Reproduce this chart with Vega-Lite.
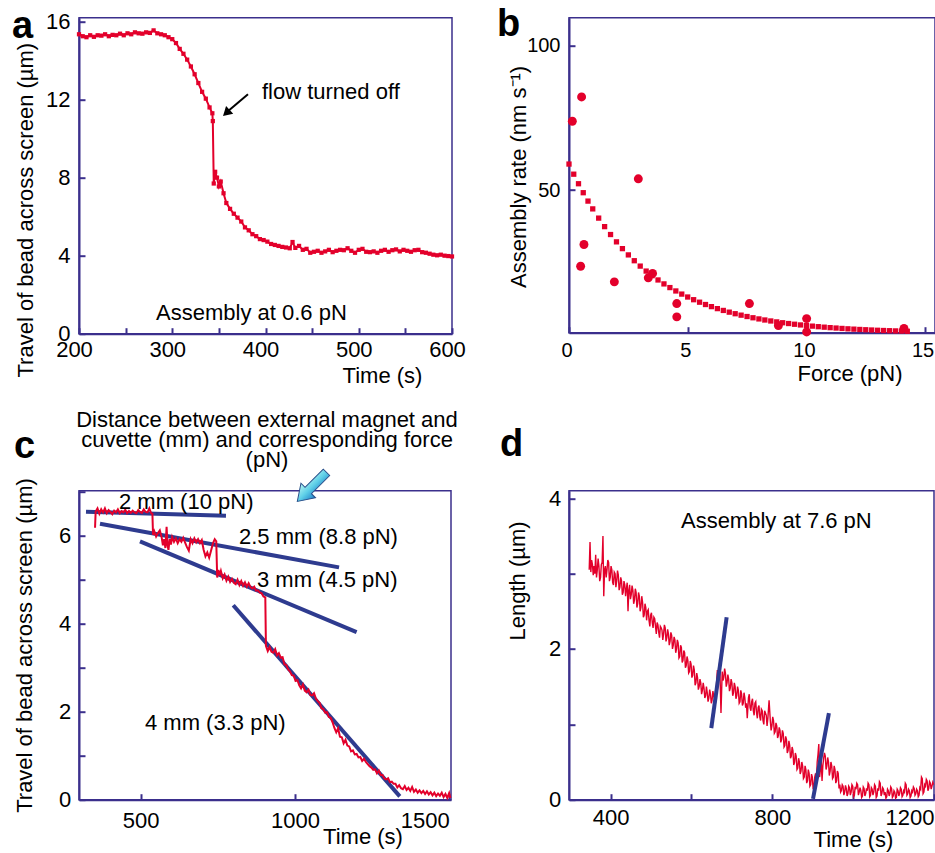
{
  "$schema": "https://vega.github.io/schema/vega-lite/v6.json",
  "autosize": {"type": "none"},
  "padding": {"left": 79, "top": 17.7, "right": 856, "bottom": 835.3},
  "background": "white",
  "config": {
    "font": "Liberation Sans",
    "view": {"stroke": "#3b2f8c", "strokeWidth": 1.5},
    "axis": {"domainColor": "#3b2f8c", "domainWidth": 2, "tickColor": "#3b2f8c", "tickWidth": 2, "tickSize": -6, "labelFont": "Liberation Sans", "labelFontSize": 22, "labelColor": "black", "titleFont": "Liberation Sans", "titleFontSize": 22, "titleFontWeight": "normal", "titleColor": "black", "grid": false, "labelFlush": false, "labelOverlap": false, "titleBaseline": "alphabetic", "format": "d"},
    "text": {"font": "Liberation Sans", "fontSize": 22, "color": "black"}
  },
  "datasets": {
    "traceA": [
      {"t":200,"v":15.35},{"t":204,"v":15.25},{"t":208,"v":15.2},{"t":212,"v":15.3},{"t":216,"v":15.22},{"t":220,"v":15.3},{"t":224,"v":15.28},{"t":228,"v":15.35},{"t":232,"v":15.25},{"t":236,"v":15.32},{"t":240,"v":15.3},{"t":244,"v":15.38},{"t":248,"v":15.3},{"t":252,"v":15.4},{"t":256,"v":15.35},{"t":260,"v":15.45},{"t":264,"v":15.4},{"t":268,"v":15.38},{"t":272,"v":15.45},{"t":276,"v":15.42},{"t":280,"v":15.55},{"t":284,"v":15.4},{"t":288,"v":15.35},{"t":292,"v":15.3},{"t":296,"v":15.2},{"t":300,"v":15.1},{"t":304,"v":14.9},{"t":308,"v":14.6},{"t":312,"v":14.35},{"t":316,"v":14.05},{"t":320,"v":13.7},{"t":324,"v":13.3},{"t":328,"v":12.85},{"t":332,"v":12.4},{"t":336,"v":12.05},{"t":340,"v":11.6},{"t":343,"v":11.3},{"t":343.5,"v":10.9},{"t":344.5,"v":7.7},{"t":346,"v":8.3},{"t":348,"v":8.0},{"t":350,"v":7.55},{"t":352,"v":7.8},{"t":355,"v":7.2},{"t":358,"v":6.7},{"t":362,"v":6.4},{"t":366,"v":6.15},{"t":370,"v":5.95},{"t":374,"v":5.75},{"t":378,"v":5.45},{"t":382,"v":5.3},{"t":386,"v":5.1},{"t":390,"v":5.0},{"t":394,"v":4.85},{"t":398,"v":4.8},{"t":402,"v":4.72},{"t":406,"v":4.6},{"t":410,"v":4.55},{"t":414,"v":4.5},{"t":418,"v":4.45},{"t":422,"v":4.42},{"t":426,"v":4.38},{"t":429,"v":4.7},{"t":432,"v":4.4},{"t":436,"v":4.5},{"t":440,"v":4.3},{"t":444,"v":4.35},{"t":448,"v":4.15},{"t":452,"v":4.2},{"t":456,"v":4.25},{"t":460,"v":4.15},{"t":464,"v":4.22},{"t":468,"v":4.3},{"t":472,"v":4.18},{"t":476,"v":4.25},{"t":480,"v":4.3},{"t":484,"v":4.28},{"t":488,"v":4.38},{"t":492,"v":4.25},{"t":496,"v":4.15},{"t":500,"v":4.3},{"t":504,"v":4.35},{"t":508,"v":4.2},{"t":512,"v":4.18},{"t":516,"v":4.22},{"t":520,"v":4.15},{"t":524,"v":4.25},{"t":528,"v":4.3},{"t":532,"v":4.2},{"t":536,"v":4.28},{"t":540,"v":4.32},{"t":544,"v":4.22},{"t":548,"v":4.3},{"t":552,"v":4.25},{"t":556,"v":4.2},{"t":560,"v":4.28},{"t":564,"v":4.3},{"t":568,"v":4.18},{"t":572,"v":4.15},{"t":576,"v":4.1},{"t":580,"v":4.05},{"t":584,"v":4.02},{"t":588,"v":4.05},{"t":592,"v":4.0},{"t":596,"v":3.98},{"t":600,"v":3.96}
    ],
    "fitB": [
      {"f":0,"v":59.0},{"f":0.2,"v":55.5},{"f":0.4,"v":52.2},{"f":0.6,"v":49.1},{"f":0.8,"v":46.2},{"f":1,"v":43.51},{"f":1.25,"v":40.32},{"f":1.5,"v":37.38},{"f":1.75,"v":34.65},{"f":2,"v":32.12},{"f":2.25,"v":29.78},{"f":2.5,"v":27.61},{"f":2.75,"v":25.6},{"f":3,"v":23.74},{"f":3.25,"v":22.02},{"f":3.5,"v":20.43},{"f":3.75,"v":18.95},{"f":4,"v":17.59},{"f":4.25,"v":16.32},{"f":4.5,"v":15.15},{"f":4.75,"v":14.07},{"f":5,"v":13.06},{"f":5.25,"v":12.13},{"f":5.5,"v":11.27},{"f":5.75,"v":10.47},{"f":6,"v":9.74},{"f":6.25,"v":9.05},{"f":6.5,"v":8.42},{"f":6.75,"v":7.83},{"f":7,"v":7.29},{"f":7.25,"v":6.79},{"f":7.5,"v":6.32},{"f":7.75,"v":5.89},{"f":8,"v":5.49},{"f":8.25,"v":5.12},{"f":8.5,"v":4.78},{"f":8.75,"v":4.46},{"f":9,"v":4.17},{"f":9.25,"v":3.9},{"f":9.5,"v":3.65},{"f":9.75,"v":3.41},{"f":10,"v":3.2},{"f":10.25,"v":3.0},{"f":10.5,"v":2.81},{"f":10.75,"v":2.64},{"f":11,"v":2.48},{"f":11.25,"v":2.34},{"f":11.5,"v":2.2},{"f":11.75,"v":2.07},{"f":12,"v":1.96},{"f":12.25,"v":1.85},{"f":12.5,"v":1.75},{"f":12.75,"v":1.66},{"f":13,"v":1.57},{"f":13.25,"v":1.49},{"f":13.5,"v":1.42},{"f":13.75,"v":1.35},{"f":14,"v":1.29},{"f":14.25,"v":1.23}
    ],
    "ptsB": [
      {"f":0.14,"v":73.8},{"f":0.53,"v":82.2},{"f":0.63,"v":31.2},{"f":0.49,"v":23.7},{"f":1.91,"v":18.3},{"f":2.92,"v":53.9},{"f":3.34,"v":19.7},{"f":3.52,"v":21.2},{"f":4.54,"v":10.8},{"f":4.54,"v":6.2},{"f":7.6,"v":10.8},{"f":8.82,"v":3.2},{"f":10.01,"v":5.6},{"f":10.01,"v":1.0},{"f":14.11,"v":2.2}
    ],
    "traceC": [
      {"t":352,"v":6.18},{"t":354,"v":6.55},{"t":360,"v":6.62},{"t":366,"v":6.5},{"t":372,"v":6.6},{"t":378,"v":6.53},{"t":384,"v":6.62},{"t":390,"v":6.51},{"t":396,"v":6.58},{"t":402,"v":6.54},{"t":408,"v":6.49},{"t":414,"v":6.57},{"t":420,"v":6.53},{"t":426,"v":6.6},{"t":432,"v":6.51},{"t":438,"v":6.56},{"t":444,"v":6.53},{"t":450,"v":6.59},{"t":456,"v":6.51},{"t":462,"v":6.56},{"t":468,"v":6.52},{"t":474,"v":6.57},{"t":480,"v":6.53},{"t":486,"v":6.51},{"t":492,"v":6.58},{"t":498,"v":6.54},{"t":504,"v":6.52},{"t":510,"v":6.6},{"t":516,"v":6.54},{"t":522,"v":6.53},{"t":528,"v":6.62},{"t":534,"v":6.51},{"t":538,"v":6.5},{"t":540,"v":6.02},{"t":544,"v":6.1},{"t":550,"v":5.98},{"t":556,"v":6.06},{"t":562,"v":6.12},{"t":568,"v":5.96},{"t":572,"v":5.78},{"t":576,"v":5.92},{"t":580,"v":5.72},{"t":584,"v":6.2},{"t":587,"v":5.78},{"t":590,"v":5.68},{"t":594,"v":5.92},{"t":598,"v":5.8},{"t":602,"v":5.97},{"t":608,"v":5.86},{"t":614,"v":5.94},{"t":620,"v":5.83},{"t":626,"v":5.92},{"t":632,"v":5.86},{"t":638,"v":5.95},{"t":644,"v":5.84},{"t":650,"v":5.74},{"t":656,"v":5.66},{"t":662,"v":5.92},{"t":668,"v":5.83},{"t":674,"v":5.94},{"t":680,"v":5.85},{"t":686,"v":5.92},{"t":692,"v":5.83},{"t":698,"v":5.9},{"t":704,"v":5.68},{"t":710,"v":5.53},{"t":716,"v":5.62},{"t":722,"v":5.5},{"t":728,"v":5.66},{"t":734,"v":5.82},{"t":740,"v":5.92},{"t":745,"v":5.87},{"t":748,"v":5.05},{"t":752,"v":5.22},{"t":756,"v":5.1},{"t":760,"v":5.2},{"t":766,"v":5.03},{"t":772,"v":5.12},{"t":778,"v":4.98},{"t":784,"v":5.07},{"t":790,"v":4.95},{"t":796,"v":5.02},{"t":802,"v":4.93},{"t":808,"v":4.9},{"t":814,"v":5.0},{"t":820,"v":4.88},{"t":826,"v":4.97},{"t":832,"v":4.86},{"t":838,"v":4.94},{"t":844,"v":4.84},{"t":850,"v":4.92},{"t":856,"v":4.83},{"t":862,"v":4.8},{"t":868,"v":4.84},{"t":874,"v":4.75},{"t":880,"v":4.76},{"t":886,"v":4.71},{"t":892,"v":4.69},{"t":898,"v":4.62},{"t":904,"v":4.6},{"t":906,"v":3.5},{"t":912,"v":3.38},{"t":918,"v":3.47},{"t":924,"v":3.36},{"t":930,"v":3.34},{"t":936,"v":3.42},{"t":942,"v":3.28},{"t":948,"v":3.33},{"t":954,"v":3.23},{"t":960,"v":3.24},{"t":966,"v":3.08},{"t":972,"v":3.06},{"t":978,"v":2.96},{"t":984,"v":2.92},{"t":990,"v":2.83},{"t":996,"v":2.82},{"t":1002,"v":2.7},{"t":1008,"v":2.72},{"t":1014,"v":2.6},{"t":1020,"v":2.53},{"t":1026,"v":2.62},{"t":1032,"v":2.48},{"t":1038,"v":2.44},{"t":1044,"v":2.5},{"t":1050,"v":2.38},{"t":1056,"v":2.37},{"t":1062,"v":2.42},{"t":1068,"v":2.3},{"t":1074,"v":2.24},{"t":1080,"v":2.2},{"t":1086,"v":2.08},{"t":1092,"v":2.06},{"t":1098,"v":1.98},{"t":1104,"v":1.99},{"t":1110,"v":1.88},{"t":1116,"v":1.86},{"t":1122,"v":1.76},{"t":1128,"v":1.63},{"t":1134,"v":1.53},{"t":1140,"v":1.62},{"t":1146,"v":1.43},{"t":1152,"v":1.42},{"t":1158,"v":1.28},{"t":1164,"v":1.36},{"t":1170,"v":1.23},{"t":1176,"v":1.21},{"t":1182,"v":1.1},{"t":1188,"v":1.12},{"t":1194,"v":1.03},{"t":1200,"v":1.04},{"t":1206,"v":0.96},{"t":1212,"v":0.97},{"t":1218,"v":0.88},{"t":1224,"v":0.93},{"t":1230,"v":0.86},{"t":1236,"v":0.81},{"t":1242,"v":0.76},{"t":1248,"v":0.73},{"t":1254,"v":0.68},{"t":1260,"v":0.69},{"t":1266,"v":0.6},{"t":1272,"v":0.66},{"t":1278,"v":0.56},{"t":1284,"v":0.56},{"t":1290,"v":0.48},{"t":1296,"v":0.46},{"t":1302,"v":0.49},{"t":1308,"v":0.4},{"t":1314,"v":0.41},{"t":1320,"v":0.36},{"t":1326,"v":0.36},{"t":1332,"v":0.28},{"t":1338,"v":0.33},{"t":1344,"v":0.26},{"t":1350,"v":0.24},{"t":1356,"v":0.31},{"t":1362,"v":0.22},{"t":1368,"v":0.27},{"t":1374,"v":0.2},{"t":1380,"v":0.29},{"t":1386,"v":0.18},{"t":1392,"v":0.23},{"t":1398,"v":0.16},{"t":1404,"v":0.21},{"t":1410,"v":0.15},{"t":1416,"v":0.2},{"t":1422,"v":0.13},{"t":1428,"v":0.19},{"t":1434,"v":0.12},{"t":1440,"v":0.17},{"t":1446,"v":0.1},{"t":1452,"v":0.16},{"t":1458,"v":0.08},{"t":1464,"v":0.14},{"t":1470,"v":0.09},{"t":1476,"v":0.16},{"t":1482,"v":0.06},{"t":1488,"v":0.13},{"t":1494,"v":0.04},{"t":1500,"v":0.15},{"t":1504,"v":0.04}
    ],
    "linesC": [
      {"t":322.7,"v":6.545,"t2":776.5,"v2":6.455},
      {"t":368,"v":6.27,"t2":1143,"v2":5.28},
      {"t":497.7,"v":5.87,"t2":1200,"v2":3.81},
      {"t":800,"v":4.42,"t2":1340,"v2":0.075}
    ],
    "traceD": [
      {"t":347,"v":3.05},{"t":349,"v":3.42},{"t":351,"v":3.02},{"t":353,"v":3.18},{"t":355,"v":3.12},{"t":357,"v":2.98},{"t":359,"v":3.1},{"t":361,"v":3.0},{"t":363,"v":3.25},{"t":365,"v":2.95},{"t":367,"v":3.05},{"t":369,"v":3.2},{"t":371,"v":3.1},{"t":373,"v":2.9},{"t":375,"v":2.95},{"t":377,"v":3.12},{"t":379,"v":3.15},{"t":381,"v":3.5},{"t":383,"v":2.7},{"t":385,"v":3.05},{"t":387,"v":3.1},{"t":389,"v":2.95},{"t":391,"v":3.05},{"t":393,"v":3.18},{"t":395,"v":3.15},{"t":397,"v":2.9},{"t":399,"v":2.95},{"t":401,"v":3.1},{"t":403,"v":3.05},{"t":405,"v":2.88},{"t":407,"v":2.85},{"t":409,"v":3.02},{"t":411,"v":3.0},{"t":413,"v":2.82},{"t":415,"v":2.9},{"t":417,"v":3.04},{"t":419,"v":2.98},{"t":421,"v":2.78},{"t":423,"v":2.82},{"t":425,"v":2.95},{"t":427,"v":2.9},{"t":429,"v":2.72},{"t":431,"v":2.75},{"t":433,"v":2.9},{"t":435,"v":2.85},{"t":437,"v":2.7},{"t":439,"v":2.8},{"t":441,"v":2.88},{"t":443,"v":2.5},{"t":445,"v":2.78},{"t":447,"v":2.85},{"t":449,"v":2.66},{"t":451,"v":2.72},{"t":453,"v":2.84},{"t":455,"v":2.78},{"t":457,"v":2.6},{"t":459,"v":2.65},{"t":461,"v":2.8},{"t":463,"v":2.75},{"t":465,"v":2.55},{"t":467,"v":2.6},{"t":469,"v":2.75},{"t":471,"v":2.7},{"t":473,"v":2.5},{"t":475,"v":2.55},{"t":477,"v":2.7},{"t":479,"v":2.62},{"t":481,"v":2.42},{"t":483,"v":2.45},{"t":485,"v":2.6},{"t":487,"v":2.55},{"t":489,"v":2.38},{"t":491,"v":2.5},{"t":493,"v":2.52},{"t":495,"v":2.38},{"t":497,"v":2.3},{"t":499,"v":2.45},{"t":501,"v":2.48},{"t":503,"v":2.35},{"t":505,"v":2.28},{"t":507,"v":2.42},{"t":509,"v":2.4},{"t":511,"v":2.3},{"t":513,"v":2.2},{"t":515,"v":2.35},{"t":517,"v":2.32},{"t":519,"v":2.22},{"t":521,"v":2.15},{"t":523,"v":2.3},{"t":525,"v":2.28},{"t":527,"v":2.25},{"t":529,"v":2.12},{"t":531,"v":2.2},{"t":533,"v":2.32},{"t":535,"v":2.28},{"t":537,"v":2.1},{"t":539,"v":2.15},{"t":541,"v":2.26},{"t":543,"v":2.2},{"t":545,"v":2.05},{"t":547,"v":2.1},{"t":549,"v":2.22},{"t":551,"v":2.18},{"t":553,"v":2.0},{"t":555,"v":2.05},{"t":557,"v":2.16},{"t":559,"v":2.12},{"t":561,"v":1.95},{"t":563,"v":2.0},{"t":565,"v":2.12},{"t":567,"v":2.08},{"t":569,"v":1.88},{"t":571,"v":1.9},{"t":573,"v":2.05},{"t":575,"v":2.02},{"t":577,"v":1.82},{"t":579,"v":1.85},{"t":581,"v":1.98},{"t":583,"v":1.95},{"t":585,"v":1.75},{"t":587,"v":1.78},{"t":589,"v":1.9},{"t":591,"v":1.85},{"t":593,"v":1.68},{"t":595,"v":1.7},{"t":597,"v":1.84},{"t":599,"v":1.8},{"t":601,"v":1.62},{"t":603,"v":1.65},{"t":605,"v":1.78},{"t":607,"v":1.72},{"t":609,"v":1.52},{"t":611,"v":1.55},{"t":613,"v":1.68},{"t":615,"v":1.62},{"t":617,"v":1.46},{"t":619,"v":1.5},{"t":621,"v":1.6},{"t":623,"v":1.55},{"t":625,"v":1.4},{"t":627,"v":1.45},{"t":629,"v":1.55},{"t":631,"v":1.48},{"t":633,"v":1.35},{"t":635,"v":1.38},{"t":637,"v":1.5},{"t":639,"v":1.42},{"t":641,"v":1.3},{"t":643,"v":1.35},{"t":645,"v":1.46},{"t":647,"v":1.4},{"t":649,"v":1.28},{"t":651,"v":1.32},{"t":653,"v":1.44},{"t":655,"v":1.38},{"t":658,"v":1.3},{"t":661,"v":1.45},{"t":664,"v":1.72},{"t":667,"v":1.65},{"t":670,"v":1.78},{"t":673,"v":1.15},{"t":676,"v":1.7},{"t":678,"v":1.58},{"t":680,"v":1.62},{"t":682,"v":1.74},{"t":684,"v":1.68},{"t":686,"v":1.5},{"t":688,"v":1.55},{"t":690,"v":1.66},{"t":692,"v":1.6},{"t":694,"v":1.44},{"t":696,"v":1.48},{"t":698,"v":1.6},{"t":700,"v":1.55},{"t":702,"v":1.38},{"t":704,"v":1.42},{"t":706,"v":1.55},{"t":708,"v":1.5},{"t":710,"v":1.34},{"t":712,"v":1.38},{"t":714,"v":1.5},{"t":716,"v":1.45},{"t":718,"v":1.28},{"t":720,"v":1.3},{"t":722,"v":1.45},{"t":724,"v":1.4},{"t":726,"v":1.25},{"t":728,"v":1.28},{"t":730,"v":1.42},{"t":732,"v":1.35},{"t":734,"v":1.22},{"t":736,"v":1.28},{"t":738,"v":1.08},{"t":741,"v":1.35},{"t":743,"v":1.4},{"t":745,"v":1.22},{"t":747,"v":1.18},{"t":749,"v":1.3},{"t":751,"v":1.34},{"t":753,"v":1.18},{"t":755,"v":1.12},{"t":757,"v":1.28},{"t":759,"v":1.3},{"t":761,"v":1.15},{"t":763,"v":1.08},{"t":765,"v":1.22},{"t":767,"v":1.25},{"t":769,"v":1.1},{"t":771,"v":1.05},{"t":773,"v":1.2},{"t":775,"v":1.18},{"t":777,"v":1.05},{"t":779,"v":1.0},{"t":781,"v":1.18},{"t":783,"v":1.15},{"t":785,"v":1.12},{"t":787,"v":0.98},{"t":789,"v":1.08},{"t":792,"v":1.32},{"t":795,"v":1.05},{"t":797,"v":0.92},{"t":799,"v":0.98},{"t":801,"v":1.1},{"t":803,"v":1.05},{"t":805,"v":0.88},{"t":807,"v":0.9},{"t":809,"v":1.02},{"t":811,"v":0.98},{"t":813,"v":0.82},{"t":815,"v":0.85},{"t":817,"v":0.96},{"t":819,"v":0.92},{"t":821,"v":0.76},{"t":823,"v":0.8},{"t":825,"v":0.92},{"t":827,"v":0.88},{"t":829,"v":0.7},{"t":831,"v":0.72},{"t":833,"v":0.84},{"t":835,"v":0.8},{"t":837,"v":0.62},{"t":839,"v":0.65},{"t":841,"v":0.78},{"t":843,"v":0.72},{"t":845,"v":0.55},{"t":847,"v":0.58},{"t":849,"v":0.7},{"t":851,"v":0.65},{"t":853,"v":0.46},{"t":855,"v":0.5},{"t":857,"v":0.62},{"t":859,"v":0.58},{"t":861,"v":0.4},{"t":863,"v":0.42},{"t":865,"v":0.55},{"t":867,"v":0.5},{"t":869,"v":0.34},{"t":871,"v":0.38},{"t":873,"v":0.5},{"t":875,"v":0.45},{"t":877,"v":0.28},{"t":879,"v":0.3},{"t":881,"v":0.45},{"t":883,"v":0.4},{"t":885,"v":0.22},{"t":887,"v":0.25},{"t":889,"v":0.4},{"t":891,"v":0.35},{"t":893,"v":0.18},{"t":895,"v":0.2},{"t":897,"v":0.34},{"t":899,"v":0.3},{"t":901,"v":0.14},{"t":903,"v":0.18},{"t":905,"v":0.3},{"t":907,"v":0.35},{"t":909,"v":0.22},{"t":911,"v":0.5},{"t":913,"v":0.6},{"t":915,"v":0.74},{"t":917,"v":0.3},{"t":919,"v":0.4},{"t":921,"v":0.52},{"t":923,"v":0.25},{"t":925,"v":0.45},{"t":927,"v":0.55},{"t":929,"v":0.62},{"t":931,"v":0.58},{"t":933,"v":0.4},{"t":935,"v":0.45},{"t":937,"v":0.56},{"t":939,"v":0.5},{"t":941,"v":0.32},{"t":943,"v":0.38},{"t":945,"v":0.5},{"t":947,"v":0.45},{"t":949,"v":0.28},{"t":951,"v":0.3},{"t":953,"v":0.45},{"t":955,"v":0.4},{"t":957,"v":0.22},{"t":959,"v":0.25},{"t":961,"v":0.38},{"t":963,"v":0.35},{"t":965,"v":0.15},{"t":967,"v":0.2},{"t":969,"v":0.1},{"t":971,"v":0.12},{"t":973,"v":0.2},{"t":975,"v":0.18},{"t":977,"v":0.06},{"t":979,"v":0.1},{"t":981,"v":0.19},{"t":983,"v":0.15},{"t":985,"v":0.05},{"t":987,"v":0.08},{"t":989,"v":0.18},{"t":991,"v":0.16},{"t":993,"v":0.06},{"t":995,"v":0.1},{"t":997,"v":0.2},{"t":999,"v":0.18},{"t":1001,"v":0.04},{"t":1003,"v":0.06},{"t":1005,"v":0.17},{"t":1007,"v":0.14},{"t":1009,"v":0.22},{"t":1011,"v":0.2},{"t":1013,"v":0.06},{"t":1015,"v":0.1},{"t":1017,"v":0.16},{"t":1019,"v":0.12},{"t":1021,"v":0.03},{"t":1023,"v":0.05},{"t":1025,"v":0.17},{"t":1027,"v":0.15},{"t":1029,"v":0.05},{"t":1031,"v":0.08},{"t":1033,"v":0.15},{"t":1035,"v":0.12},{"t":1037,"v":0.22},{"t":1039,"v":0.2},{"t":1041,"v":0.04},{"t":1043,"v":0.06},{"t":1045,"v":0.16},{"t":1047,"v":0.14},{"t":1049,"v":0.06},{"t":1051,"v":0.1},{"t":1053,"v":0.2},{"t":1055,"v":0.18},{"t":1057,"v":0.03},{"t":1059,"v":0.05},{"t":1061,"v":0.15},{"t":1063,"v":0.12},{"t":1065,"v":0.24},{"t":1067,"v":0.22},{"t":1069,"v":0.05},{"t":1071,"v":0.08},{"t":1073,"v":0.16},{"t":1075,"v":0.14},{"t":1077,"v":0.06},{"t":1079,"v":0.1},{"t":1081,"v":0.02},{"t":1083,"v":0.04},{"t":1085,"v":0.14},{"t":1087,"v":0.12},{"t":1089,"v":0.05},{"t":1091,"v":0.08},{"t":1093,"v":0.17},{"t":1095,"v":0.15},{"t":1097,"v":0.03},{"t":1099,"v":0.05},{"t":1101,"v":0.12},{"t":1103,"v":0.1},{"t":1105,"v":0.02},{"t":1107,"v":0.03},{"t":1109,"v":0.14},{"t":1111,"v":0.12},{"t":1113,"v":0.05},{"t":1115,"v":0.08},{"t":1117,"v":0.16},{"t":1119,"v":0.14},{"t":1121,"v":0.04},{"t":1123,"v":0.06},{"t":1125,"v":0.12},{"t":1127,"v":0.1},{"t":1129,"v":0.22},{"t":1131,"v":0.2},{"t":1133,"v":0.06},{"t":1135,"v":0.08},{"t":1137,"v":0.14},{"t":1139,"v":0.12},{"t":1141,"v":0.03},{"t":1143,"v":0.05},{"t":1145,"v":0.12},{"t":1147,"v":0.1},{"t":1149,"v":0.17},{"t":1151,"v":0.15},{"t":1153,"v":0.06},{"t":1155,"v":0.08},{"t":1157,"v":0.14},{"t":1159,"v":0.12},{"t":1161,"v":0.04},{"t":1163,"v":0.06},{"t":1165,"v":0.16},{"t":1167,"v":0.14},{"t":1169,"v":0.3},{"t":1171,"v":0.28},{"t":1173,"v":0.08},{"t":1175,"v":0.1},{"t":1177,"v":0.2},{"t":1179,"v":0.18},{"t":1181,"v":0.27},{"t":1183,"v":0.25},{"t":1185,"v":0.12},{"t":1187,"v":0.15},{"t":1189,"v":0.24},{"t":1191,"v":0.22},{"t":1193,"v":0.14},{"t":1195,"v":0.18},{"t":1197,"v":0.23},{"t":1199,"v":0.2}
    ],
    "linesD": [
      {"t":649,"v":0.95,"t2":687,"v2":2.42},
      {"t":900.7,"v":0.01,"t2":940,"v2":1.15}
    ]
  },
  "columns": 2,
  "align": "each",
  "bounds": "flush",
  "spacing": {"row": 157, "column": 117},
  "concat": [
    {
      "width": 373, "height": 316,
      "layer": [
        {
          "data": {"name": "traceA"},
          "mark": {"type": "line", "color": "#e3002b", "strokeWidth": 2, "point": {"shape": "square", "size": 18, "filled": true, "color": "#e3002b"}},
          "encoding": {
            "x": {"field": "t", "type": "quantitative", "scale": {"domain": [200, 600], "nice": false, "zero": false},
                  "axis": {"title": "Time (s)", "values": [200,250,300,350,400,450,500,550,600], "labelExpr": "datum.value % 100 === 0 ? datum.label : ''", "labelPadding": 12, "labelOffset": -5, "titleX": 303, "titleY": 49}},
            "y": {"field": "v", "type": "quantitative", "scale": {"domain": [0, 16.2], "nice": false, "zero": false},
                  "axis": {"title": "Travel of bead across screen (µm)", "values": [0,2,4,6,8,10,12,14,16], "labelExpr": "datum.value % 4 === 0 ? datum.label : ''", "labelPadding": 15, "titleX": -46.5, "titleY": 192}}
          }
        },
        {
          "data": {"values": [{"t": 381.2, "v": 12.28, "t2": 358.7, "v2": 11.36}]},
          "mark": {"type": "rule", "color": "black", "strokeWidth": 2},
          "encoding": {"x": {"field": "t", "type": "quantitative"}, "y": {"field": "v", "type": "quantitative"}, "x2": {"field": "t2"}, "y2": {"field": "v2"}}
        },
        {
          "data": {"values": [{"t": 358.0, "v": 11.32}]},
          "mark": {"type": "point", "shape": "triangle-up", "angle": 227, "size": 110, "filled": true, "color": "black", "opacity": 1},
          "encoding": {"x": {"field": "t", "type": "quantitative"}, "y": {"field": "v", "type": "quantitative"}}
        },
        {
          "data": {"values": [{"t": 396.2, "v": 12.41, "label": "flow turned off"}, {"t": 282.6, "v": 1.04, "label": "Assembly at 0.6 pN"}]},
          "mark": {"type": "text", "align": "left", "baseline": "middle"},
          "encoding": {"x": {"field": "t", "type": "quantitative"}, "y": {"field": "v", "type": "quantitative"}, "text": {"field": "label"}}
        },
        {
          "data": {"values": [{"t": 128.2, "v": 15.14, "label": "a"}]},
          "mark": {"type": "text", "align": "left", "baseline": "alphabetic", "fontSize": 38, "fontWeight": "bold"},
          "encoding": {"x": {"field": "t", "type": "quantitative"}, "y": {"field": "v", "type": "quantitative"}, "text": {"field": "label"}}
        }
      ]
    },
    {
      "width": 366, "height": 315,
      "layer": [
        {
          "data": {"name": "fitB"},
          "mark": {"type": "point", "shape": "square", "size": 28, "filled": true, "color": "#e3002b", "opacity": 1},
          "encoding": {
            "x": {"field": "f", "type": "quantitative", "scale": {"domain": [0, 15.417], "nice": false, "zero": false},
                  "axis": {"title": "Force (pN)", "values": [0,5,10,15], "labelFontSize": 20, "labelPadding": 14, "labelOffset": -2.5, "titleX": 280.5, "titleY": 47.5}},
            "y": {"field": "v", "type": "quantitative", "scale": {"domain": [0.73, 109.57], "nice": false, "zero": false},
                  "axis": {"title": "Assembly rate (nm s⁻¹)", "values": [50, 100], "labelFontSize": 20, "labelPadding": 15, "titleX": -43.2, "titleY": 158.7}}
          }
        },
        {
          "data": {"name": "ptsB"},
          "mark": {"type": "point", "shape": "circle", "size": 80, "filled": true, "color": "#e3002b", "opacity": 1},
          "encoding": {"x": {"field": "f", "type": "quantitative"}, "y": {"field": "v", "type": "quantitative"}}
        },
        {
          "data": {"values": [{"f": -3.03, "v": 103.2, "label": "b"}]},
          "mark": {"type": "text", "align": "left", "baseline": "alphabetic", "fontSize": 38, "fontWeight": "bold"},
          "encoding": {"x": {"field": "f", "type": "quantitative"}, "y": {"field": "v", "type": "quantitative"}, "text": {"field": "label"}}
        }
      ]
    },
    {
      "width": 372, "height": 309,
      "layer": [
        {
          "data": {"name": "linesC"},
          "mark": {"type": "rule", "color": "#2e3b8f", "strokeWidth": 4},
          "encoding": {
            "x": {"field": "t", "type": "quantitative", "scale": {"domain": [300, 1506], "nice": false, "zero": false},
                  "axis": {"title": "Time (s)", "values": [500, 1000, 1500], "labelPadding": 16.5, "labelFlush": 5, "titleX": 283.5, "titleY": 44}},
            "y": {"field": "v", "type": "quantitative", "scale": {"domain": [0, 7.023], "nice": false, "zero": false},
                  "axis": {"title": "Travel of bead across screen (µm)", "values": [0,1,2,3,4,5,6,7], "labelExpr": "datum.value % 2 === 0 ? datum.label : ''", "labelPadding": 14.3, "titleX": -47.5, "titleY": 154.3}},
            "x2": {"field": "t2"}, "y2": {"field": "v2"}
          }
        },
        {
          "data": {"name": "traceC"},
          "mark": {"type": "line", "color": "#e3002b", "strokeWidth": 2},
          "encoding": {"x": {"field": "t", "type": "quantitative"}, "y": {"field": "v", "type": "quantitative"}}
        },
        {
          "data": {"values": [{"t": 429.7, "v": 6.77, "label": "2 mm (10 pN)"}, {"t": 818.7, "v": 5.98, "label": "2.5 mm (8.8 pN)"}, {"t": 877, "v": 5.0, "label": "3  mm (4.5 pN)"}, {"t": 514, "v": 1.75, "label": "4 mm (3.3 pN)"}]},
          "mark": {"type": "text", "align": "left", "baseline": "middle"},
          "encoding": {"x": {"field": "t", "type": "quantitative"}, "y": {"field": "v", "type": "quantitative"}, "text": {"field": "label"}}
        },
        {
          "data": {"values": [{"t": 909.5, "v": 8.635, "label": "Distance between external magnet and\ncuvette (mm) and corresponding force\n(pN)"}]},
          "mark": {"type": "text", "align": "center", "baseline": "middle", "lineBreak": "\n", "lineHeight": 20},
          "encoding": {"x": {"field": "t", "type": "quantitative"}, "y": {"field": "v", "type": "quantitative"}, "text": {"field": "label"}}
        },
        {
          "data": {"values": [{"t": 1055, "v": 7.11}]},
          "mark": {"type": "point", "shape": "M0,-1L0.5,-0.25L0.22,-0.25L0.22,1L-0.22,1L-0.22,-0.25L-0.5,-0.25Z", "angle": 225, "size": 1700, "filled": true, "opacity": 1,
                   "fill": {"gradient": "linear", "x1": 0, "y1": 0, "x2": 1, "y2": 0, "stops": [{"offset": 0, "color": "#1f7fc8"}, {"offset": 0.5, "color": "#5fd0e8"}, {"offset": 1, "color": "#b8f4f0"}]},
                   "stroke": "#2a4f8a", "strokeWidth": 1},
          "encoding": {"x": {"field": "t", "type": "quantitative"}, "y": {"field": "v", "type": "quantitative"}}
        },
        {
          "data": {"values": [{"t": 89.3, "v": 7.766, "label": "c"}]},
          "mark": {"type": "text", "align": "left", "baseline": "alphabetic", "fontSize": 38, "fontWeight": "bold"},
          "encoding": {"x": {"field": "t", "type": "quantitative"}, "y": {"field": "v", "type": "quantitative"}, "text": {"field": "label"}}
        }
      ]
    },
    {
      "width": 365, "height": 309,
      "layer": [
        {
          "data": {"name": "traceD"},
          "mark": {"type": "line", "color": "#e3002b", "strokeWidth": 1.4},
          "encoding": {
            "x": {"field": "t", "type": "quantitative", "scale": {"domain": [297, 1200], "nice": false, "zero": false},
                  "axis": {"title": "Time (s)", "values": [400, 600, 800, 1000, 1200], "labelExpr": "datum.value % 400 === 0 ? datum.label : ''", "labelPadding": 14, "labelFlush": true, "titleX": 284, "titleY": 46.5}},
            "y": {"field": "v", "type": "quantitative", "scale": {"domain": [0, 4.1], "nice": false, "zero": false},
                  "axis": {"title": "Length (µm)", "values": [0,1,2,3,4], "labelExpr": "datum.value % 2 === 0 ? datum.label : ''", "labelPadding": 14.3, "titleX": -44.2, "titleY": 89.7}}
          }
        },
        {
          "data": {"name": "linesD"},
          "mark": {"type": "rule", "color": "#2e3b8f", "strokeWidth": 4},
          "encoding": {"x": {"field": "t", "type": "quantitative"}, "y": {"field": "v", "type": "quantitative"}, "x2": {"field": "t2"}, "y2": {"field": "v2"}}
        },
        {
          "data": {"values": [{"t": 574, "v": 3.7, "label": "Assembly at 7.6 pN"}]},
          "mark": {"type": "text", "align": "left", "baseline": "middle"},
          "encoding": {"x": {"field": "t", "type": "quantitative"}, "y": {"field": "v", "type": "quantitative"}, "text": {"field": "label"}}
        },
        {
          "data": {"values": [{"t": 126.3, "v": 4.564, "label": "d"}]},
          "mark": {"type": "text", "align": "left", "baseline": "alphabetic", "fontSize": 38, "fontWeight": "bold"},
          "encoding": {"x": {"field": "t", "type": "quantitative"}, "y": {"field": "v", "type": "quantitative"}, "text": {"field": "label"}}
        }
      ]
    }
  ]
}
